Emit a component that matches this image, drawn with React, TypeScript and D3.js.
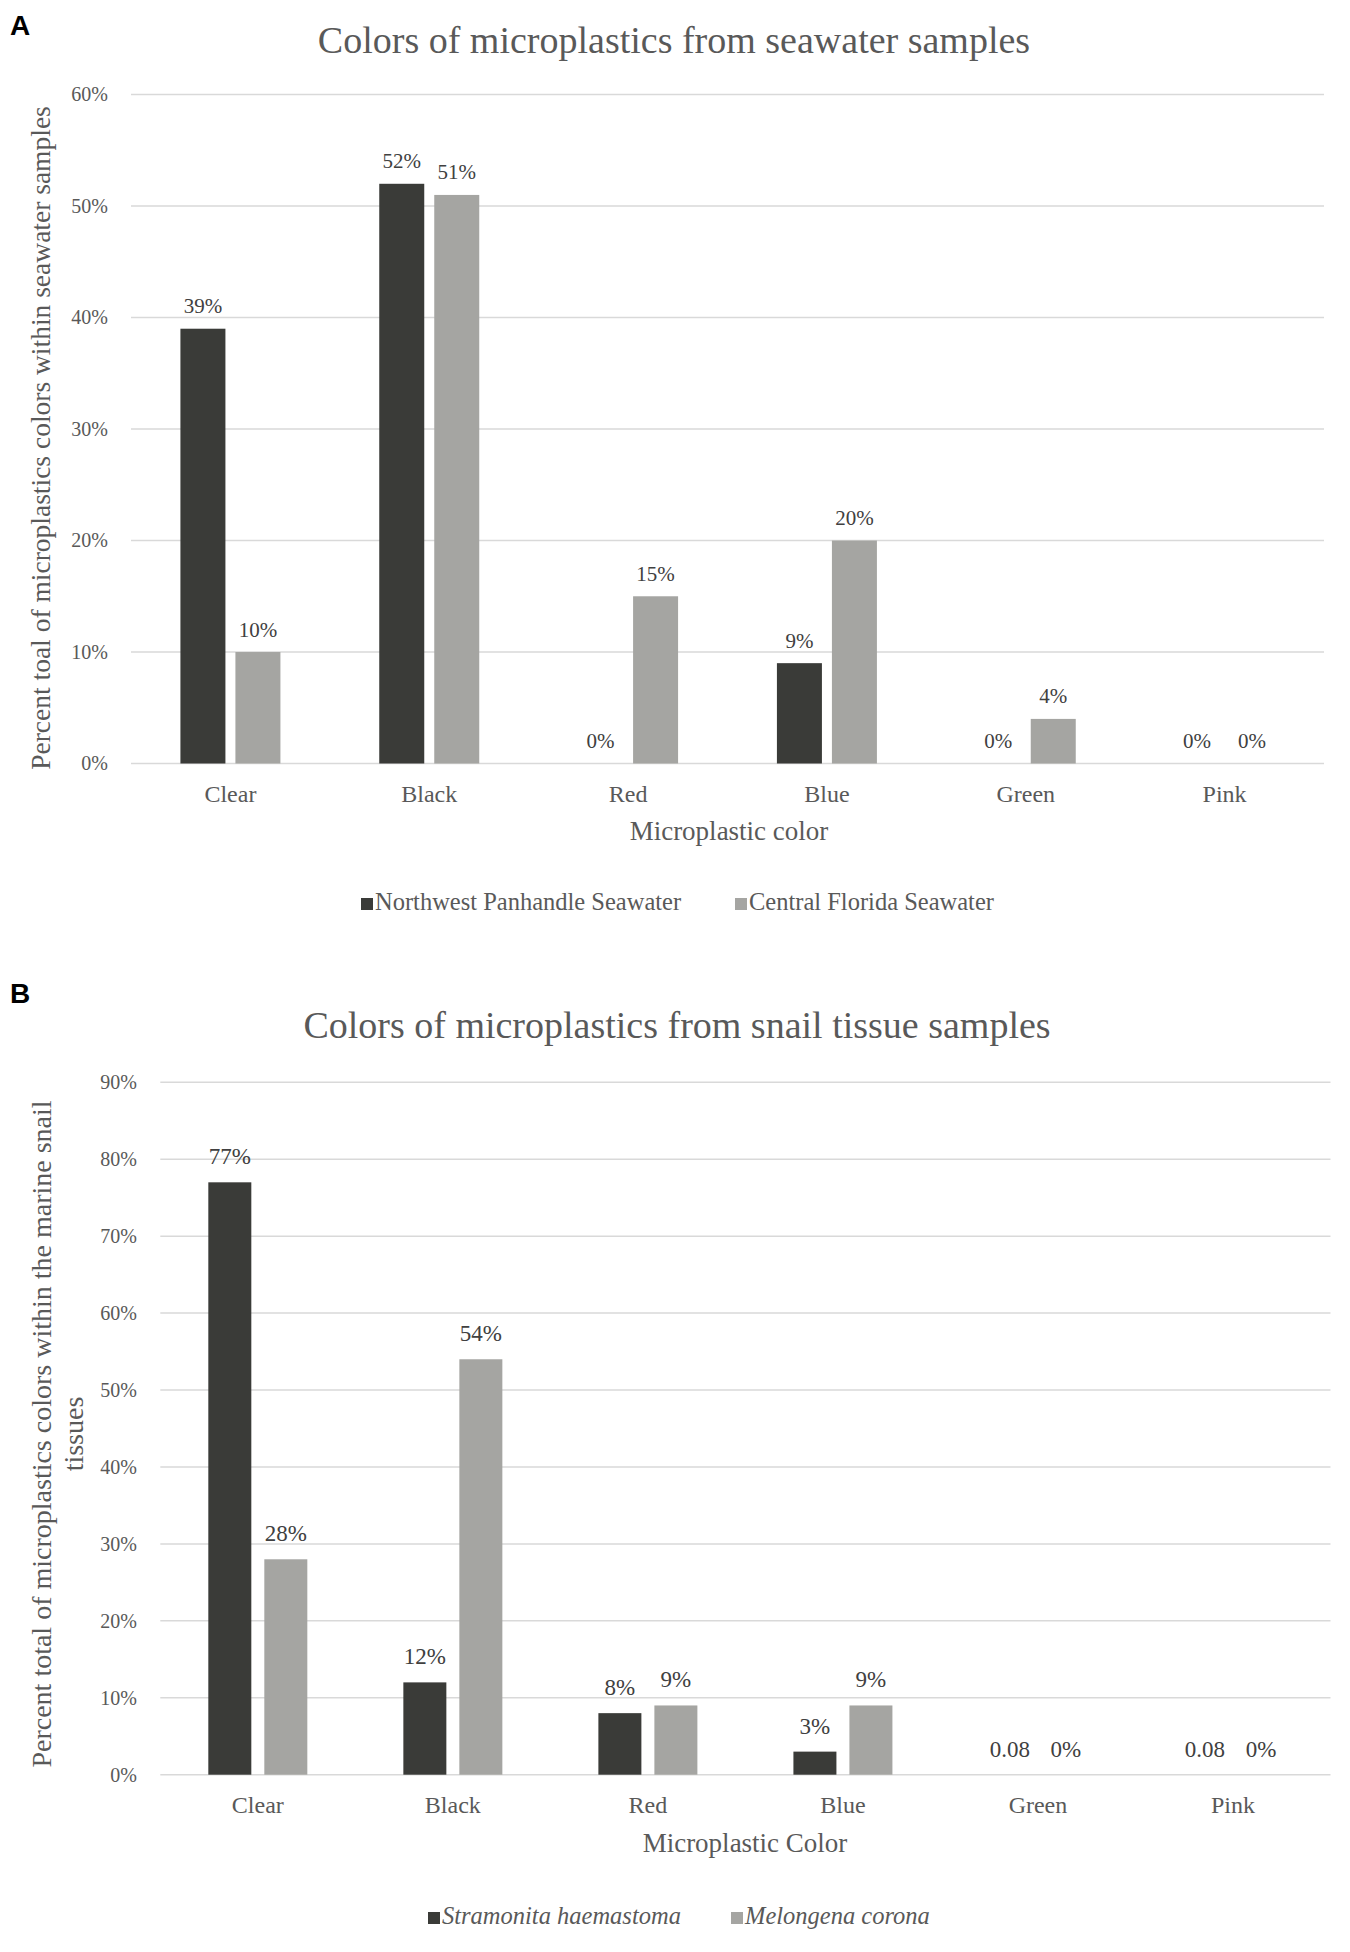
import React from 'react';
import * as d3 from 'd3';

// categories shared by both panels
const colorCategories = ['Clear', 'Black', 'Red', 'Blue', 'Green', 'Pink'];

// panel A - seawater
const seawaterSeries = ['Northwest Panhandle Seawater', 'Central Florida Seawater'];
const northwestValues = [39, 52, 0, 9, 0, 0];
const centralFloridaValues = [10, 51, 15, 20, 4, 0];
const seawaterTicks = [0, 10, 20, 30, 40, 50, 60];

// panel B - snail tissue (green/pink for Stramonita are labelled "0.08" but show no bar)
const snailSeries = ['Stramonita haemastoma', 'Melongena corona'];
const stramonitaValues = [77, 12, 8, 3, 0, 0];
const melongenaValues = [28, 54, 9, 9, 0, 0];
const stramonitaLabels = ['77%', '12%', '8%', '3%', '0.08', '0.08'];
const melongenaLabels = ['28%', '54%', '9%', '9%', '0%', '0%'];
const snailTicks = [0, 10, 20, 30, 40, 50, 60, 70, 80, 90];

const seriesColors = ['#3a3b38', '#a5a5a2'];
const serif = '"Liberation Serif", "Times New Roman", Times, serif';
const textGray = '#595959';

interface PanelProps {
  letter: string;
  letterY: number;
  title: string;
  titleX: number;
  titleY: number;
  left: number;
  right: number;
  y0: number;
  yTop: number;
  yMax: number;
  ticks: number[];
  tickX: number;
  tickSize: number;
  yLabel: string[];
  yLabelX: number[];
  yLabelY: number;
  yLabelSize: number;
  xTickY: number;
  xTickSize: number;
  xTitle: string;
  xTitleX: number;
  xTitleY: number;
  series: string[];
  values: number[][];
  labels: string[][];
  labelSize: number;
  labelGap: number;
  barWidth: number;
  barGap: number;
  legendX: number[];
  legendY: number;
  legendItalic: boolean;
}

const Panel: React.FC<PanelProps> = (p) => {
  const x0 = d3.scaleBand<string>().domain(colorCategories).range([p.left, p.right]);
  const x1 = d3
    .scaleBand<string>()
    .domain(p.series)
    .range([-p.barWidth - p.barGap / 2, p.barWidth + p.barGap / 2])
    .paddingInner(p.barGap / (p.barWidth + p.barGap));
  const y = d3.scaleLinear().domain([0, p.yMax]).range([p.y0, p.yTop]);
  const center = (c: string) => (x0(c) as number) + x0.bandwidth() / 2;

  return (
    <g>
      <text x={10} y={p.letterY} fontFamily='"Liberation Sans Narrow", "Liberation Sans", Arial, sans-serif'
        fontWeight="bold" fontSize={28} fill="#000">{p.letter}</text>
      <text x={p.titleX} y={p.titleY} textAnchor="middle" fontFamily={serif} fontSize={38} fill={textGray}>
        {p.title}
      </text>

      {/* gridlines + y ticks */}
      {p.ticks.map((t) => (
        <g key={t}>
          <line x1={p.left} x2={p.right} y1={y(t)} y2={y(t)} stroke="#d9d9d9" strokeWidth={1.5} />
          <text x={p.tickX} y={y(t)} dy="0.34em" textAnchor="end" fontFamily={serif}
            fontSize={p.tickSize} fill={textGray}>{t}%</text>
        </g>
      ))}

      {/* bars */}
      {p.series.map((s, si) =>
        colorCategories.map((c, ci) => {
          const v = p.values[si][ci];
          const bx = center(c) + (x1(s) as number);
          return (
            <g key={s + c}>
              {v > 0 && (
                <rect x={bx} y={y(v)} width={x1.bandwidth()} height={p.y0 - y(v)} fill={seriesColors[si]} />
              )}
              <text x={bx + x1.bandwidth() / 2} y={y(v) - p.labelGap} textAnchor="middle" fontFamily={serif}
                fontSize={p.labelSize} fill="#404040">{p.labels[si][ci]}</text>
            </g>
          );
        })
      )}

      {/* category labels */}
      {colorCategories.map((c) => (
        <text key={c} x={center(c)} y={p.xTickY} textAnchor="middle" fontFamily={serif}
          fontSize={p.xTickSize} fill={textGray}>{c}</text>
      ))}

      <text x={p.xTitleX} y={p.xTitleY} textAnchor="middle" fontFamily={serif} fontSize={27} fill={textGray}>
        {p.xTitle}
      </text>

      {p.yLabel.map((line, i) => (
        <text key={line} transform={`translate(${p.yLabelX[i]},${p.yLabelY}) rotate(-90)`} textAnchor="middle"
          fontFamily={serif} fontSize={p.yLabelSize} fill={textGray}>{line}</text>
      ))}

      {/* legend */}
      {p.series.map((s, si) => (
        <g key={s} transform={`translate(${p.legendX[si]},${p.legendY})`}>
          <rect x={0} y={-12} width={12} height={12} fill={seriesColors[si]} />
          <text x={14} y={0} fontFamily={serif} fontSize={24.5} fontStyle={p.legendItalic ? 'italic' : 'normal'}
            fill={textGray}>{s}</text>
        </g>
      ))}
    </g>
  );
};

export default function App() {
  return (
    <svg width={1350} height={1952} style={{ position: 'absolute', left: 0, top: 0, background: '#fff' }}>
      <rect width={1350} height={1952} fill="#fff" />
      <Panel
        letter="A" letterY={35}
        title="Colors of microplastics from seawater samples" titleX={674} titleY={53}
        left={131} right={1324} y0={763.5} yTop={94.6} yMax={60}
        ticks={seawaterTicks} tickX={108} tickSize={20}
        yLabel={['Percent toal of microplastics colors within seawater samples']} yLabelX={[50]} yLabelY={438}
        yLabelSize={27.5}
        xTickY={802} xTickSize={24}
        xTitle="Microplastic color" xTitleX={729} xTitleY={840}
        series={seawaterSeries} values={[northwestValues, centralFloridaValues]}
        labels={[northwestValues.map((v) => `${v}%`), centralFloridaValues.map((v) => `${v}%`)]}
        labelSize={21} labelGap={15.5}
        barWidth={45} barGap={10}
        legendX={[361, 735]} legendY={910} legendItalic={false}
      />
      <Panel
        letter="B" letterY={1003}
        title="Colors of microplastics from snail tissue samples" titleX={677} titleY={1038}
        left={160.3} right={1330.5} y0={1774.7} yTop={1082.3} yMax={90}
        ticks={snailTicks} tickX={137} tickSize={20}
        yLabel={['Percent total of microplastics colors within the marine snail', 'tissues']}
        yLabelX={[51, 83]} yLabelY={1434} yLabelSize={28}
        xTickY={1813} xTickSize={24}
        xTitle="Microplastic Color" xTitleX={745} xTitleY={1852}
        series={snailSeries} values={[stramonitaValues, melongenaValues]}
        labels={[stramonitaLabels, melongenaLabels]}
        labelSize={23} labelGap={18}
        barWidth={43} barGap={13}
        legendX={[428, 731]} legendY={1924} legendItalic={true}
      />
    </svg>
  );
}
